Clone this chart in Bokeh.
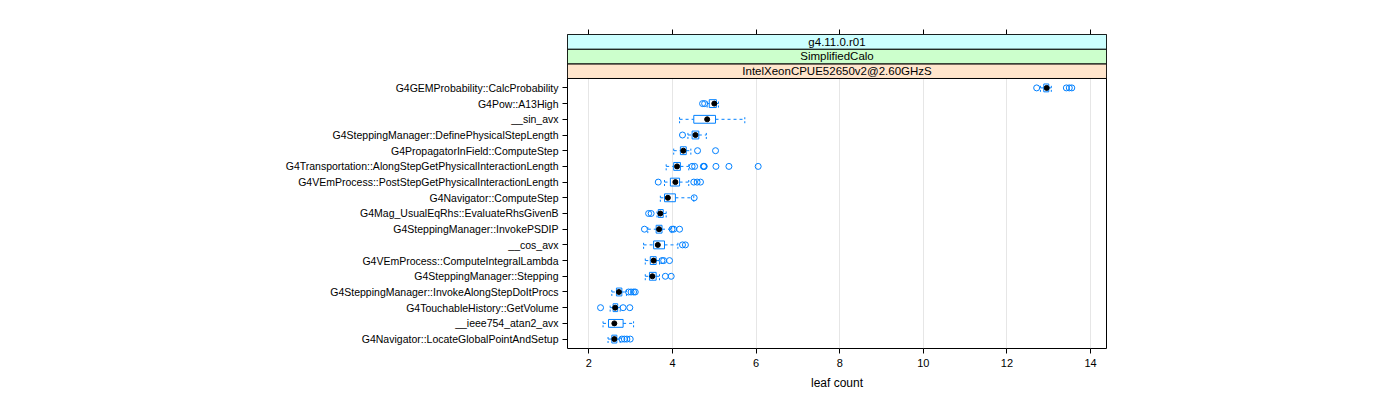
from bokeh.plotting import figure
from bokeh.models import Range1d, FixedTicker, LinearAxis, ColumnDataSource
from bokeh.embed import file_html
from bokeh.resources import INLINE
from bokeh.core.properties import value

# ---------------- data ----------------
categories = [
    "G4GEMProbability::CalcProbability",
    "G4Pow::A13High",
    "__sin_avx",
    "G4SteppingManager::DefinePhysicalStepLength",
    "G4PropagatorInField::ComputeStep",
    "G4Transportation::AlongStepGetPhysicalInteractionLength",
    "G4VEmProcess::PostStepGetPhysicalInteractionLength",
    "G4Navigator::ComputeStep",
    "G4Mag_UsualEqRhs::EvaluateRhsGivenB",
    "G4SteppingManager::InvokePSDIP",
    "__cos_avx",
    "G4VEmProcess::ComputeIntegralLambda",
    "G4SteppingManager::Stepping",
    "G4SteppingManager::InvokeAlongStepDoItProcs",
    "G4TouchableHistory::GetVolume",
    "__ieee754_atan2_avx",
    "G4Navigator::LocateGlobalPointAndSetup",
]
whisker_low = [12.80, 4.83, 4.17, 4.37, 4.03, 3.85, 3.81, 3.71, 3.63, 3.41, 3.31, 3.35, 3.35, 2.55, 2.51, 2.34, 2.46]
q1 = [12.88, 4.88, 4.51, 4.47, 4.19, 4.03, 3.95, 3.81, 3.66, 3.61, 3.55, 3.47, 3.45, 2.66, 2.58, 2.47, 2.55]
median = [12.95, 5.00, 4.83, 4.55, 4.26, 4.11, 4.07, 3.89, 3.71, 3.68, 3.65, 3.55, 3.52, 2.72, 2.63, 2.61, 2.61]
q3 = [13.00, 5.05, 5.03, 4.63, 4.33, 4.19, 4.17, 4.07, 3.78, 3.75, 3.81, 3.61, 3.61, 2.79, 2.69, 2.82, 2.67]
whisker_high = [13.06, 5.10, 5.73, 4.81, 4.44, 4.39, 4.39, 4.51, 3.85, 3.97, 4.13, 3.69, 3.69, 2.90, 2.75, 3.07, 2.75]
outliers = [
    [12.71, 13.42, 13.49, 13.55],
    [4.72, 4.77],
    [],
    [4.24],
    [4.60, 5.03],
    [4.47, 4.53, 4.74, 4.75, 4.76, 5.04, 5.35, 6.05],
    [3.66, 4.51, 4.59, 4.67],
    [4.52],
    [3.43, 3.49],
    [3.33, 3.99, 4.03, 4.17],
    [4.24, 4.31],
    [3.75, 3.79, 3.93],
    [3.83, 3.97],
    [2.95, 3.01, 3.07, 3.11],
    [2.28, 2.82, 2.98],
    [],
    [2.79, 2.85, 2.91, 2.99],
]
strip_labels = ["IntelXeonCPUE52650v2@2.60GHzS", "SimplifiedCalo", "g4.11.0.r01"]
strip_colors = ["#FFE5CC", "#CCFFCC", "#CCFFFF"]
x_ticks = [2, 4, 6, 8, 10, 12, 14]
x_label = "leaf count"

# ---------------- layout ----------------
FONT = "Liberation Sans"
BLUE = "#0080FF"
n = len(categories)
ypos = [n - i for i in range(n)]
panel_top = n + 0.6
strip_h = 0.934
x0, x1 = 1.49, 14.38
half = 0.25

p = figure(width=1392, height=392, output_backend="svg", toolbar_location=None,
           x_range=Range1d(x0, x1), y_range=Range1d(0.4, panel_top + 3 * strip_h),
           min_border_left=567, min_border_right=1392 - 1106, min_border_top=34,
           min_border_bottom=392 - 348)
p.outline_line_color = "black"
p.outline_line_width = 1
p.background_fill_color = "white"
p.border_fill_color = "white"

# axes
p.xaxis.ticker = FixedTicker(ticks=x_ticks, minor_ticks=[])
p.xaxis.axis_label = x_label
p.xaxis.axis_label_text_font = FONT
p.xaxis.axis_label_text_font_size = "12px"
p.xaxis.axis_label_text_font_style = "normal"
p.xaxis.axis_label_text_color = "black"
p.xaxis.axis_label_standoff = 6
p.xaxis.major_label_text_font = FONT
p.xaxis.major_label_text_font_size = "11px"
p.xaxis.major_label_text_color = "black"
p.xaxis.major_tick_out = 5
p.xaxis.major_tick_in = 0
p.xaxis.axis_line_color = None
p.xaxis.major_tick_line_color = "black"

p.yaxis.ticker = FixedTicker(ticks=ypos, minor_ticks=[])
p.yaxis.major_label_overrides = {y: c for y, c in zip(ypos, categories)}
p.yaxis.major_label_text_font = FONT
p.yaxis.major_label_text_font_size = "10.5px"
p.yaxis.major_label_text_color = "black"
p.yaxis.major_tick_out = 5
p.yaxis.major_tick_in = 0
p.yaxis.major_tick_line_color = "black"
p.yaxis.major_label_standoff = 4
p.yaxis.axis_line_color = None

top_axis = LinearAxis(ticker=FixedTicker(ticks=x_ticks, minor_ticks=[]),
                      major_label_overrides={t: "" for t in x_ticks},
                      major_tick_out=5, major_tick_in=0, axis_line_color=None,
                      major_tick_line_color="black",
                      major_label_text_font_size="1px")
p.add_layout(top_axis, "above")

p.xgrid.ticker = FixedTicker(ticks=x_ticks)
p.xgrid.grid_line_color = "#E6E6E6"
p.ygrid.grid_line_color = None

# box plots
src = ColumnDataSource(dict(y=ypos, wl=whisker_low, q1=q1, med=median, q3=q3, wh=whisker_high,
                            ylo=[y - half for y in ypos], yhi=[y + half for y in ypos]))
p.segment(x0="wl", y0="y", x1="q1", y1="y", source=src, line_color=BLUE, line_dash="3 3", line_width=1)
p.segment(x0="q3", y0="y", x1="wh", y1="y", source=src, line_color=BLUE, line_dash="3 3", line_width=1)
p.segment(x0="wl", y0="ylo", x1="wl", y1="yhi", source=src, line_color=BLUE, line_dash="2 2")
p.segment(x0="wh", y0="ylo", x1="wh", y1="yhi", source=src, line_color=BLUE, line_dash="2 2")
p.quad(left="q1", right="q3", bottom="ylo", top="yhi", source=src,
       fill_alpha=0, line_color=BLUE, line_width=1)

ox, oy = [], []
for y, outs in zip(ypos, outliers):
    for v in outs:
        ox.append(v)
        oy.append(y)
p.scatter(ox, oy, marker="circle", size=6, fill_alpha=0, line_color=BLUE, line_width=1)
p.scatter(median, ypos, marker="circle", size=5, fill_color="black", line_color="black")

# strips
for k, (lab, col) in enumerate(zip(strip_labels, strip_colors)):
    b = panel_top + k * strip_h
    p.quad(left=[x0], right=[x1], bottom=[b], top=[b + strip_h], fill_color=col,
           line_color="black", line_width=1)
    p.text(x=[(x0 + x1) / 2], y=[b + strip_h / 2], text=[lab], text_align="center",
           text_baseline="middle", text_font=value(FONT), text_font_size="11.5px",
           text_color="black")

open("out.html", "w").write(file_html(p, INLINE))
